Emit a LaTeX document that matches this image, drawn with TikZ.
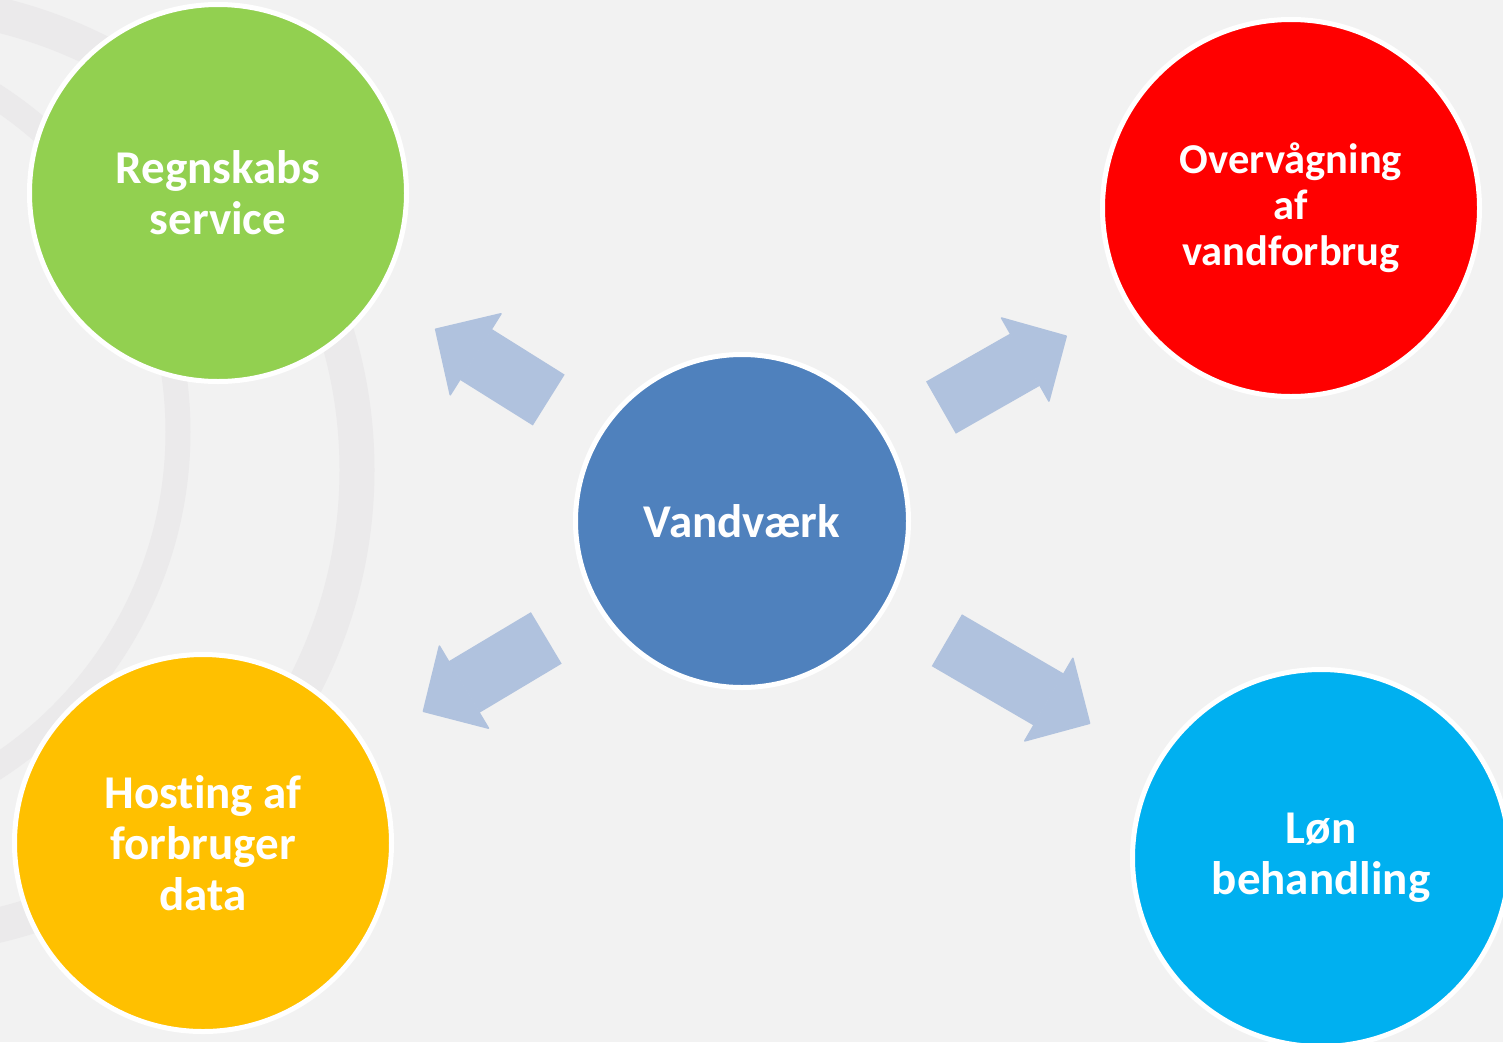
\documentclass[tikz,border=0pt]{standalone}
\usepackage{fontspec}
\setmainfont{Carlito}[Ligatures=NoCommon]
\usetikzlibrary{arrows.meta}
\definecolor{bggray}{RGB}{242,242,242}
\definecolor{ringgray}{RGB}{235,234,235}
\definecolor{arrblue}{RGB}{176,194,222}
\definecolor{vvblue}{RGB}{79,129,189}
\definecolor{rsgreen}{RGB}{146,208,80}
\definecolor{hdyellow}{RGB}{255,192,0}
\definecolor{lbcyan}{RGB}{0,176,240}

\begin{document}
\begin{tikzpicture}[x=1pt, y=-1pt,
    ball/.style={circle, draw=white, line width=5pt, text=white, align=center,
      inner sep=0pt, minimum size=377pt, font=\bfseries\fontsize{47}{51}\selectfont},
    ring/.style={draw=ringgray},
    blockarr/.style={draw=arrblue, fill=arrblue, line width=60pt, shorten <=59pt, shorten >=65pt,
      -{Triangle[length=49pt, width=99pt, line width=1.5pt, round]}}]
  \useasboundingbox (0,0) rectangle (1503,1042);
  \clip (0,0) rectangle (1503,1042);
  \fill[bggray] (0,0) rectangle (1503,1042);
  \draw[ring, line width=25pt] (-222,432) circle[radius=400pt];
  \draw[ring, line width=35pt] (-111,470) circle[radius=468pt];
  \node[ball, fill=vvblue, minimum size=333pt] (VV) at (742,521) {Vandværk};
  \node[ball, fill=rsgreen] (RS) at (218,193) {Regnskabs\\service};
  \node[ball, fill=red, font=\bfseries\fontsize{42.5}{46}\selectfont] (OV) at (1291,208) {Overvågning\\af\\vandforbrug};
  \node[ball, fill=hdyellow] (HD) at (203,843) {Hosting af\\forbruger\\data};
  \node[ball, fill=lbcyan] (LB) at (1321,858) {Løn\\behandling};
  \draw[blockarr] (VV) -- (RS);
  \draw[blockarr, shorten <=60pt, shorten >=67pt] (VV) -- (OV);
  \draw[blockarr] (VV) -- (HD);
  \draw[blockarr, shorten <=68pt, shorten >=76pt] (VV) -- (LB);
\end{tikzpicture}
\end{document}
